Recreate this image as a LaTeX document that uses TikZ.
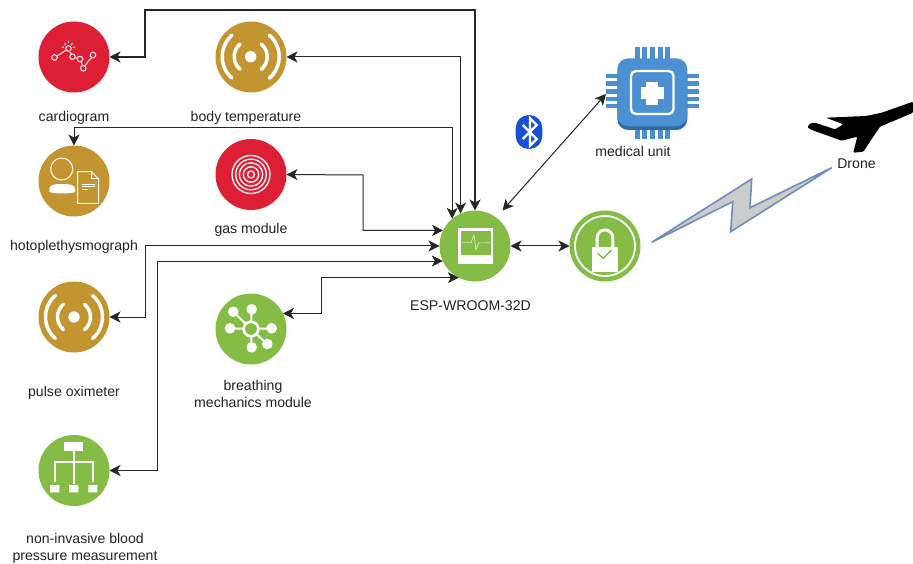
\documentclass[tikz,border=0pt]{standalone}
\usepackage{fontspec}
\setmainfont{Liberation Sans}
\usetikzlibrary{arrows.meta}
\definecolor{cred}{HTML}{DD1F35}
\definecolor{cgold}{HTML}{C29530}
\definecolor{cgreen}{HTML}{84BC45}
\definecolor{cblue}{HTML}{4A90D2}
\definecolor{cbluedark}{HTML}{2F6AA8}
\definecolor{btblue}{HTML}{1A4FD8}
\definecolor{boltline}{HTML}{6C8EBF}
\definecolor{boltfill}{HTML}{CCCCCC}
\definecolor{txt}{HTML}{222222}
\newcommand{\sensoricon}[2]{%
  \begin{scope}[shift={(#1,#2)}]
    \fill[white] (0,0) circle[radius=5.7];
    \foreach \a in {0,180}{
      \draw[white,line width=3.5,line cap=round] (0,0) ++(\a-50:16.5) arc[start angle=\a-50,end angle=\a+50,radius=16.5];
      \draw[white,line width=3.5,line cap=round] (0,0) ++(\a-49:28.5) arc[start angle=\a-49,end angle=\a+49,radius=28.5];
    }
  \end{scope}}
\tikzset{
  disc/.style={circle,minimum size=71pt,inner sep=0pt,outer sep=0pt},
  lab/.style={font=\fontsize{14.1}{17}\selectfont,text=txt,align=center,inner sep=0pt},
  conn/.style={draw=black!85,line width=1pt,{Stealth[length=11pt,width=11pt,inset=3pt]}-{Stealth[length=11pt,width=11pt,inset=3pt]}},
  thick line/.style={line width=1.2pt},
  ico/.style={draw=white,line width=1pt}
}
\begin{document}
\begin{tikzpicture}[x=1pt,y=-1pt]
\useasboundingbox (0,0) rectangle (913,564);
\fill[white] (0,0) rectangle (913,564);

% discs
\node[disc,fill=cred]   (card)  at (74,57)    {};
\node[disc,fill=cgold]  (temp)  at (251,57)   {};
\node[disc,fill=cgold]  (photo) at (74,181)   {};
\node[disc,fill=cred]   (gas)   at (251,174.5)  {};
\node[disc,fill=cgold]  (pulse) at (74,317)   {};
\node[disc,fill=cgreen] (breath) at (251,329) {};
\node[disc,fill=cgreen] (nibp)  at (74,470.5) {};
\node[disc,fill=cgreen] (esp)   at (475,246)  {};
\node[disc,fill=cgreen] (lock)  at (605,246)  {};

% chip
\foreach \x in {637.3,644.8,652.3,660,667.7}{
  \fill[cblue] (\x-2.5,46.7) rectangle (\x+2.5,62);
  \fill[cblue] (\x-2.5,122) rectangle (\x+2.5,139);
}
\foreach \y in {76,83.7,91.3,99,106}{
  \fill[cblue] (606,\y-2.3) rectangle (621,\y+2.3);
  \fill[cblue] (684,\y-2.3) rectangle (699.3,\y+2.3);
}
\fill[cbluedark,rounded corners=11pt] (617.3,64) rectangle (687.3,130);
\node[fill=cblue,rounded corners=11pt,minimum width=70pt,minimum height=68pt,inner sep=0pt,outer sep=0pt] (chip) at (652.3,92.3) {};
\draw[white,line width=2.4pt,rounded corners=5pt] (631,71) rectangle (673.5,114);
\fill[white] (646.3,81.6) rectangle (658.3,105);
\fill[white] (640.6,87.3) rectangle (664,99.3);
\coordinate (chipw) at (606,94);
\coordinate (espne) at (502.5,210.5);

% connectors
\draw[conn,thick line] (esp.90) |- (145,10) |- (card.east);
\draw[conn] (esp.114) |- (temp.east);
\draw[conn] (esp.130) |- (74,128) -- (photo.north);
\draw[conn] (esp.154) -| (363,175) -- (gas.east);
\draw[conn] (esp.180) -| (145,317) -- (pulse.east);
\draw[conn] (esp.205) -| (157,470.5) -- (nibp.east);
\draw[conn] (breath.26) -- ++(39,0) |- (esp.243);
\draw[conn] (espne) -- (chipw);
\draw[conn] (esp.east) -- (lock.west);

% cardiogram icon
\begin{scope}[ico,line width=0.9pt]
  \draw (56.6,56.3) -- (66.5,50) (70,52) -- (71.5,54) (75.5,57.8) -- (77,58) (81,62) -- (82.5,65.5) (85,65.5) -- (91.5,57.5);
  \foreach \p in {(54.5,57.5),(68.5,48.5),(72.5,56.7),(80,59),(83.3,68.3),(93,55)}
    \draw \p circle[radius=2.8];
  \draw (62,47) -- (64,47.5) (64.5,43.5) -- (65.7,45) (68.5,41) -- (68.5,43) (72.5,43.5) -- (71.2,45) (75,47) -- (73,47.5);
\end{scope}

% sensors
\sensoricon{250.7}{56.7}
\sensoricon{74}{317}

% photoplethysmograph icon
\draw[ico] (61.7,169) circle[radius=11];
\fill[white] (49.3,191.5) .. controls (49.3,194) and (75.3,194) .. (75.3,191.5) -- (75.3,189) .. controls (74.5,184.5) and (70,184) .. (62,184) .. controls (54,184) and (50,184.5) .. (49.3,189) -- cycle;
\draw[ico] (77.5,203.3) -- (77.5,171.7) -- (91.5,171.7) -- (98.7,179) -- (98.7,203.3) -- cycle;
\draw[ico] (91.5,171.7) -- (91.5,179) -- (98.7,179);
\draw[ico,line width=0.8pt] (81.5,184.3) -- (94.5,184.3) (81.5,186.9) -- (94.5,186.9) (81.5,189.5) -- (88,189.5);

% gas icon
\foreach \r in {3.5,7.7,11.7,15.3,19}
  \draw[white,line width=1.3pt] (gas.center) circle[radius=\r];

% breathing icon
\draw[white,line width=2pt] (233.3,311.7) -- (251,329) (251.7,309.3) -- (251,329) (230,328.3) -- (251,329) (271.7,328.3) -- (251,329) (251.7,347.3) -- (251,329) (267.3,344) -- (251,329);
\fill[cgreen] (251,329) circle[radius=7];
\draw[white,line width=2.6pt] (251,329) circle[radius=7.3];
\foreach \p in {(233.3,311.7),(251.7,309.3),(230,328.3),(271.7,328.3),(251.7,347.3),(267.3,344)}
  \fill[white] \p circle[radius=5.3];

% nibp icon
\fill[white] (64.3,442.3) rectangle (83.3,450.7);
\draw[white,line width=1.8pt] (74,450.7) -- (74,484) (55,481.7) |- (93.3,461.7) -- (93.3,481.7);
\fill[white] (50,485) rectangle (59.3,492.3) (69,485) rectangle (78.3,492.3) (88.3,485) rectangle (97.3,492.3);

% esp icon
\fill[white] (457.7,228.3) rectangle (493.3,264);
\fill[cgreen] (461,231) rectangle (490.7,255);
\draw[white!75!cgreen,line width=0.6pt] (462,242.7) -- (471,242.7) -- (474,235) -- (476,250) -- (478.5,243) -- (490,242.7);

% lock icon
\draw[white,line width=1.8pt] (lock.center) circle[radius=30];
\draw[white,line width=3pt] (597.2,248) -- (597.2,237.7) arc[start angle=180,end angle=360,radius=7.8] -- (612.8,248);
\fill[white] (592.3,247.3) rectangle (617.7,271.7);
\draw[cgreen,line width=1.4pt] (597.7,253.3) -- (603.3,258.3) -- (611.7,250);

% bluetooth
\fill[btblue,rounded corners=13pt] (515.7,115) rectangle (542.3,149);
\draw[white,line width=2.4pt] (522.7,125) -- (536.7,139) -- (530,145.7) -- (530,118.3) -- (536.7,125) -- (522.7,139);

% lightning
\draw[draw=boltline,fill=boltfill,line width=1.6pt,line join=miter] (651.7,242.3) -- (751.7,179) -- (750,207.7) -- (831.7,167.7) -- (730.7,231.7) -- (732.7,201.7) -- cycle;

% plane
\fill[black,rounded corners=1pt] (913,101.7) -- (881.7,112.7) -- (866,116) -- (826,117.7) -- (843.3,124.3) -- (835,129.3) -- (815,122.7) -- (810,123.5) -- (807.5,127) -- (810,129.3) -- (841.7,140.7) -- (857.3,136.7) -- (853.3,152.7) -- (863.3,151.7) -- (880,126.7) -- (913,112.7) -- cycle;

% labels
\node[lab] (l1) at (74,117.5) {cardiogram};
\node[lab] (l2) at (246,117.5) {body temperature};
\node[lab] (l3) at (74,246.5) {hotoplethysmograph};
\node[lab] (l4) at (251,229.5) {gas module};
\node[lab] (l5) at (74,392.5) {pulse oximeter};
\node[lab] (l6) at (253,393.5) {breathing\\mechanics module};
\node[lab] (l7) at (85,548.5) {non-invasive blood\\pressure measurement};
\node[lab] (l8) at (470.5,305.5) {ESP-WROOM-32D};
\node[lab] (l9) at (633,151.5) {medical unit};
\node[lab] (l10) at (856.5,163.5) {Drone};
\end{tikzpicture}
\end{document}
